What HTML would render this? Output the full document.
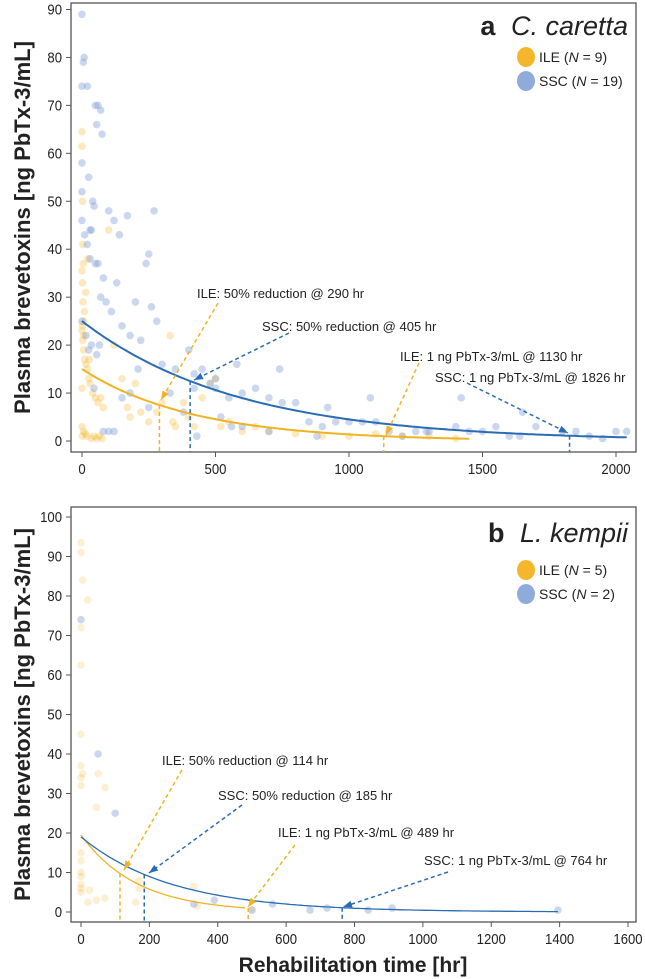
<!DOCTYPE html>
<html><head><meta charset="utf-8"><style>
body{margin:0;background:#fff;}
svg{display:block;font-family:"Liberation Sans",Arial,sans-serif;}
</style></head><body>
<svg id="chart" width="645" height="979" xmlns="http://www.w3.org/2000/svg"></svg>
<script>
// Panel a: C. caretta
const aIleT=[0,0,2,3,5,0,2,4,8,0,3,6,10,15,20,25,30,40,50,60,70,80,0,5,12,18,35,45,55,65,75,100,120,150,170,180,200,220,250,280,300,330,340,350,380,400,420,450,480,500,520,550,600,650,700,800,900,1000,1100,1200,1300,1400,2,6,9,14,22,28,0,1];
const aIleV=[64.5,61.5,50,41,37,35.5,33,29,25,23,21,19,17,16,15,13,12,10,9,8,9,7,3,2,1.5,1,0.5,1,0.5,1,0.5,44,20,13,7,5,12,6,4,6,8,22,4,3,8,5,3,9,12,13,3,4,2,3,2,1.5,1,1,1.5,1,1,0.5,24,22,27,31,38,17,11,1];
const aSscT=[0,5,0,8,0,20,25,50,55,70,75,60,0,30,35,40,45,100,120,140,170,200,250,270,0,10,20,30,50,60,70,80,90,110,130,150,180,220,240,260,300,350,400,420,450,480,500,550,580,600,650,700,750,800,850,900,950,1000,1050,1100,1150,1200,1250,1300,1400,1450,1500,1550,1600,1650,1700,1800,1850,1900,1950,2000,2040,0,15,25,35,45,55,65,80,100,120,150,180,210,250,280,330,380,420,430,500,520,560,600,700,740,880,920,1080,1290,1420,1640];
const aSscV=[89,79,74,80,58,74,55,70,66,69,64,70,52,44,44,50,49,48,46,43,47,29,39,48,46,43,41,38,37,37,30,34,29,27,33,24,22,21,37,28,16,15,19,11,15,12,13,9,16,10,11,9,8,8,4,3,4,4,4,4,2,1,2,2,3,2,2,3,1,6,3,2,2,1,0.5,2,2,25,22,19,20,11,18,20,2,2,2,9,10,15,7,25,10,6,14,1,11,5,3,3,2,15,1,7,9,2,9,1];
// Panel b: L. kempii
const bIleT=[0,0,5,0,20,0,0,0,50,70,45,0,0,0,0,0,0,0,0,20,25,45,70,170,170,160,330,340,500,0,5];
const bIleV=[93.5,91,84,72,79,62.5,45,37,35,31.5,26.5,34,15,13,10,9,7,6,5,2.5,5.5,3,3.5,8,6,2.5,6.5,1.5,0.5,32,35];
const bSscT=[0,50,100,330,390,500,560,670,720,840,910,1395];
const bSscV=[74,40,25,2,3,0.5,2,0.5,1,0.5,1,0.5];
// fitted curves: initial value, half-life, end time
const aCurves=[{c0:15,h:290,end:1460,col:'#f0b323',n:'ile-decay-curve'},{c0:25,h:405,end:2040,col:'#2a6cb4',n:'ssc-decay-curve'}];
const bCurves=[{c0:19.5,h:114,end:480,col:'#f0b323',n:'ile-decay-curve'},{c0:19,h:185,end:1395,col:'#2a6cb4',n:'ssc-decay-curve'}];
const aXTicks=[0,500,1000,1500,2000];
const aYTicks=[0,10,20,30,40,50,60,70,80,90];
const bXTicks=[0,200,400,600,800,1000,1200,1400,1600];
const bYTicks=[0,10,20,30,40,50,60,70,80,90,100];

const NS='http://www.w3.org/2000/svg';
const svg=document.getElementById('chart');
function mk(tag,attrs,parent){const e=document.createElementNS(NS,tag);for(const k in attrs)e.setAttribute(k,attrs[k]);(parent||svg).appendChild(e);return e;}

function panel(cfg){
  const g=mk('g',{});
  
  
  const sx=v=>cfg.x0+(v-cfg.xmin)/(cfg.xmax-cfg.xmin)*(cfg.x1-cfg.x0);
  const sy=v=>cfg.y0-(v-cfg.ymin)/(cfg.ymax-cfg.ymin)*(cfg.y0-cfg.y1);
  const fr=mk('rect',{x:cfg.fl,y:cfg.ft,width:cfg.fr-cfg.fl,height:cfg.fb-cfg.ft,fill:'none',stroke:'#555','stroke-width':1.3},g);
  
  
  cfg.xt.forEach(t=>{
    mk('line',{x1:sx(t),x2:sx(t),y1:cfg.fb,y2:cfg.fb+5,stroke:'#555'},g);
    const tx=mk('text',{x:sx(t),y:cfg.fb+22,'text-anchor':'middle','font-size':15,fill:'#222',textLength:String(t).length*7.3,lengthAdjust:'spacingAndGlyphs'},g);
    tx.textContent=t;
    
    
  });
  cfg.yt.forEach(t=>{
    mk('line',{x1:cfg.fl-5,x2:cfg.fl,y1:sy(t),y2:sy(t),stroke:'#555'},g);
    const tx=mk('text',{x:cfg.fl-9,y:sy(t)+5,'text-anchor':'end','font-size':15,fill:'#222',textLength:String(t).length*7.3,lengthAdjust:'spacingAndGlyphs'},g);
    tx.textContent=t;
    
    
  });
  cfg.ileT.forEach((t,i)=>{
    const c=mk('circle',{cx:sx(t),cy:sy(cfg.ileV[i]),r:3.8,fill:'#f5b62c','fill-opacity':cfg.io},g);
    
    
  });
  cfg.sscT.forEach((t,i)=>{
    const c=mk('circle',{cx:sx(t),cy:sy(cfg.sscV[i]),r:3.8,fill:'#7d9cd6','fill-opacity':0.4},g);
    
    
  });
  cfg.curves.forEach(cv=>{
    let d='';
    for(let t=0;t<=cv.end;t+=cv.end/150){d+=(d?'L':'M')+sx(t).toFixed(1)+','+sy(cv.c0*Math.pow(0.5,t/cv.h)).toFixed(1);}
    const p=mk('path',{d:d,fill:'none',stroke:cv.col,'stroke-width':cfg.lw},g);
    
    
  });
  cfg.ann.forEach(a=>{
    const tx=mk('text',{x:a.tx,y:a.ty,'font-size':13,fill:'#222'},g);
    tx.textContent=a.s;
    
    
    const cv=cfg.curves[a.ci];
    const yv=cv.c0*Math.pow(0.5,a.t/cv.h);
    const l=mk('line',{x1:sx(a.t),x2:sx(a.t),y1:sy(yv),y2:cfg.fb,stroke:cv.col,'stroke-width':1.5,'stroke-dasharray':'4,3'},g);
    
    
    const ex=a.ax, ey=a.ay;
    const ar=mk('line',{x1:a.sx,y1:a.sy,x2:ex,y2:ey,stroke:cv.col,'stroke-width':1.5,'stroke-dasharray':'4,3'},g);
    
    
    const ang=Math.atan2(ey-a.sy,ex-a.sx);
    const hx=ex-9*Math.cos(ang),hy=ey-9*Math.sin(ang);
    const px=-Math.sin(ang)*3.5,py=Math.cos(ang)*3.5;
    const hd=mk('polygon',{points:`${ex},${ey} ${hx+px},${hy+py} ${hx-px},${hy-py}`,fill:cv.col},g);
    
    
  });
  const tt=mk('text',{x:628,y:cfg.titleY,'text-anchor':'end','font-size':27,fill:'#222'},g);
  tt.innerHTML='<tspan font-weight="bold">'+cfg.letter+'</tspan>  <tspan font-style="italic" dx="8">'+cfg.sp+'</tspan>';
  
  
  cfg.leg.forEach((s,i)=>{
    const y=cfg.legY+i*24;
    const c=mk('ellipse',{cx:526,cy:y,rx:9,ry:10,fill:i?'#8fabdc':'#f5b62c'},g);
    
    
    const tx=mk('text',{x:539,y:y+5,'font-size':14,fill:'#222'},g);
    tx.innerHTML=s;
    
    
  });
  const yl=mk('text',{transform:`translate(30,${(cfg.ft+cfg.fb)/2}) rotate(-90)`,'text-anchor':'middle','font-size':22,'font-weight':'bold',fill:'#222'},g);
  yl.textContent='Plasma brevetoxins [ng PbTx-3/mL]';
  
  
}

panel({name:'panel-a-c-caretta',x0:82,x1:616,xmin:0,xmax:2000,y0:441,y1:9.5,ymin:0,ymax:90,fl:71,fr:636,ft:3,fb:452,
  xt:aXTicks,yt:aYTicks,ileT:aIleT,ileV:aIleV,sscT:aSscT,sscV:aSscV,io:0.3,curves:aCurves,lw:2,
  ann:[{s:'ILE: 50% reduction @ 290 hr',tx:197,ty:298,t:290,ci:0,sx:218,sy:303,ax:161,ay:400},
       {s:'SSC: 50% reduction @ 405 hr',tx:262,ty:331,t:405,ci:1,sx:289,sy:333,ax:194,ay:380},
       {s:'ILE: 1 ng PbTx-3/mL @ 1130 hr',tx:400,ty:361,t:1130,ci:0,sx:419,sy:363,ax:386,ay:435},
       {s:'SSC: 1 ng PbTx-3/mL @ 1826 hr',tx:435,ty:382,t:1826,ci:1,sx:467,sy:383,ax:568,ay:433}],
  titleY:35,letter:'a',sp:'C. caretta',legY:57,
  leg:['ILE (<tspan font-style="italic">N</tspan> = 9)','SSC (<tspan font-style="italic">N</tspan> = 19)']});

panel({name:'panel-b-l-kempii',x0:81,x1:628,xmin:0,xmax:1600,y0:912,y1:517,ymin:0,ymax:100,fl:71,fr:636,ft:507,fb:922,
  xt:bXTicks,yt:bYTicks,ileT:bIleT,ileV:bIleV,sscT:bSscT,sscV:bSscV,io:0.22,curves:bCurves,lw:1.3,
  ann:[{s:'ILE: 50% reduction @ 114 hr',tx:162,ty:765,t:114,ci:0,sx:182,sy:770,ax:124,ay:870},
       {s:'SSC: 50% reduction @ 185 hr',tx:218,ty:800,t:185,ci:1,sx:242,sy:805,ax:149,ay:873},
       {s:'ILE: 1 ng PbTx-3/mL @ 489 hr',tx:278,ty:837,t:489,ci:0,sx:295,sy:845,ax:248,ay:907},
       {s:'SSC: 1 ng PbTx-3/mL @ 764 hr',tx:424,ty:865,t:764,ci:1,sx:448,sy:872,ax:343,ay:907}],
  titleY:542,letter:'b',sp:'L. kempii',legY:570,
  leg:['ILE (<tspan font-style="italic">N</tspan> = 5)','SSC (<tspan font-style="italic">N</tspan> = 2)']});

const xl=mk('text',{x:353,y:972,'text-anchor':'middle','font-size':21,'font-weight':'bold',fill:'#222'});
xl.textContent='Rehabilitation time [hr]';


</script>
</body></html>
